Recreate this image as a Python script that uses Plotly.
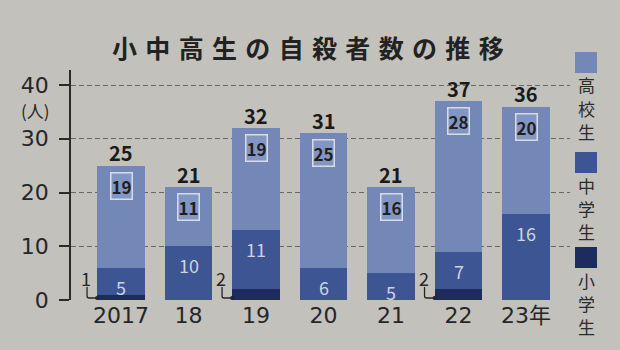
import plotly.graph_objects as go

# 小中高生の自殺者数（人）
years = ["2017", "18", "19", "20", "21", "22", "23年"]
elementary = [1, 0, 2, 0, 0, 2, 0]      # 小学生
junior_high = [5, 10, 11, 6, 5, 7, 16]  # 中学生
high_school = [19, 11, 19, 25, 16, 28, 20]  # 高校生
y_ticks = [0, 10, 20, 30, 40]

W, H = 620, 350
L, R, T, B = 71, 50, 70, 50
PW, PH = W - L - R, H - T - B

BG = "#c3c1bb"
C_HIGH = "#7488b8"
C_JUNIOR = "#3d5592"
C_ELEM = "#1e2b5f"
INK = "#262626"
JP = "Noto Sans CJK JP"
NUM = "DejaVu Sans, Noto Sans CJK JP"

BAR_W = 0.71
x = list(range(len(years)))
totals = [a + b + c for a, b, c in zip(elementary, junior_high, high_school)]


def px_x(px):
    return (px - L) / PW


def px_y(py):
    return (H - B - py) / PH


fig = go.Figure()
for name, vals, col in [("小学生", elementary, C_ELEM),
                        ("中学生", junior_high, C_JUNIOR),
                        ("高校生", high_school, C_HIGH)]:
    fig.add_trace(go.Bar(x=x, y=vals, name=name, marker_color=col,
                         marker_line_width=0, width=BAR_W, showlegend=False))

ann = []
shapes = []

for i in x:
    # total above each bar
    ann.append(dict(x=i, y=totals[i], text=f"<b>{totals[i]}</b>", showarrow=False,
                    xanchor="center", yanchor="middle", yshift=13,
                    font=dict(family=JP, size=20, color="#1a1a1a")))
    # high-school value in a light box near the segment top
    ann.append(dict(x=i, y=totals[i], text=f"<b>{high_school[i]}</b>", showarrow=False,
                    xanchor="center", yanchor="middle", yshift=-20,
                    bgcolor="#8296c3", bordercolor="#d9dce4",
                    borderwidth=1.5, borderpad=0,
                    font=dict(family=JP, size=17, color="#1f1f1f")))
    # junior-high value
    ann.append(dict(x=i, y=elementary[i] + junior_high[i], text=str(junior_high[i]),
                    showarrow=False, xanchor="center", yanchor="middle", yshift=-19,
                    font=dict(family=JP, size=18, color="#cdd3e2")))
    # elementary value with an elbow leader to the bar
    if elementary[i] > 0:
        left = i - BAR_W / 2
        ann.append(dict(x=left, y=0, text=str(elementary[i]), showarrow=False,
                        xanchor="center", yanchor="middle", xshift=-11, yshift=22,
                        font=dict(family=JP, size=18, color=INK)))
        shapes.append(dict(type="path", xref="x", yref="y", xsizemode="pixel",
                           ysizemode="pixel", xanchor=left, yanchor=0,
                           path="M -10,13 L -10,4 Q -10,2 -8,2 L 0,2",
                           line=dict(color=INK, width=1.3)))
        shapes.append(dict(type="circle", xref="x", yref="y", xsizemode="pixel",
                           ysizemode="pixel", xanchor=left, yanchor=0,
                           x0=-2, x1=2, y0=0, y1=4,
                           fillcolor=INK, line=dict(width=0)))

# title
ann.append(dict(xref="paper", yref="paper", x=px_x(308), y=px_y(47),
                xanchor="center", yanchor="middle",
                text="<b>小\u2004中\u2004高\u2004生\u2004の\u2004自\u2004殺\u2004者\u2004数\u2004の\u2004推\u2004移</b>",
                showarrow=False, font=dict(family=JP, size=25, color="#222")))
# unit label
ann.append(dict(xref="paper", yref="paper", x=px_x(35), y=px_y(110), text="(人)",
                xanchor="center", yanchor="middle",
                showarrow=False, font=dict(family=JP, size=17, color=INK)))

# legend: colour square + vertically stacked label
legend_items = [("高校生", C_HIGH, 52), ("中学生", C_JUNIOR, 152), ("小学生", C_ELEM, 247)]
for label, col, top in legend_items:
    shapes.append(dict(type="rect", xref="paper", yref="paper",
                       x0=px_x(575), x1=px_x(597), y0=px_y(top + 21), y1=px_y(top),
                       fillcolor=col, line=dict(width=0)))
    for k, ch in enumerate(label):
        ann.append(dict(xref="paper", yref="paper", x=px_x(586),
                        y=px_y(top + 33 + 23 * k),
                        xanchor="center", yanchor="middle",
                        text=ch, showarrow=False,
                        font=dict(family=JP, size=17, color="#2b2b2b")))

fig.update_layout(
    width=W, height=H,
    margin=dict(l=L, r=R, t=T, b=B, pad=0),
    paper_bgcolor=BG, plot_bgcolor=BG,
    barmode="stack", bargap=0,
    annotations=ann, shapes=shapes,
    font=dict(family=JP, color=INK),
)
fig.update_xaxes(range=[-(121 - L) / 67.5, (W - R - 121) / 67.5],
                 tickvals=x, ticktext=years, showgrid=False, zeroline=False,
                 showline=False, ticks="", tickfont=dict(family=NUM, size=22, color=INK))
fig.update_yaxes(range=[0, PH / 5.375], tickvals=y_ticks, showgrid=True,
                 gridcolor="#666666", griddash="5px,3px", gridwidth=1,
                 zeroline=False, showline=True, linecolor="#2a2a2a", linewidth=1.5,
                 ticks="outside", ticklen=10, tickwidth=1.5, tickcolor="#2a2a2a",
                 ticklabelstandoff=6, tickfont=dict(family=NUM, size=22, color=INK))

fig.write_html("out.html")
